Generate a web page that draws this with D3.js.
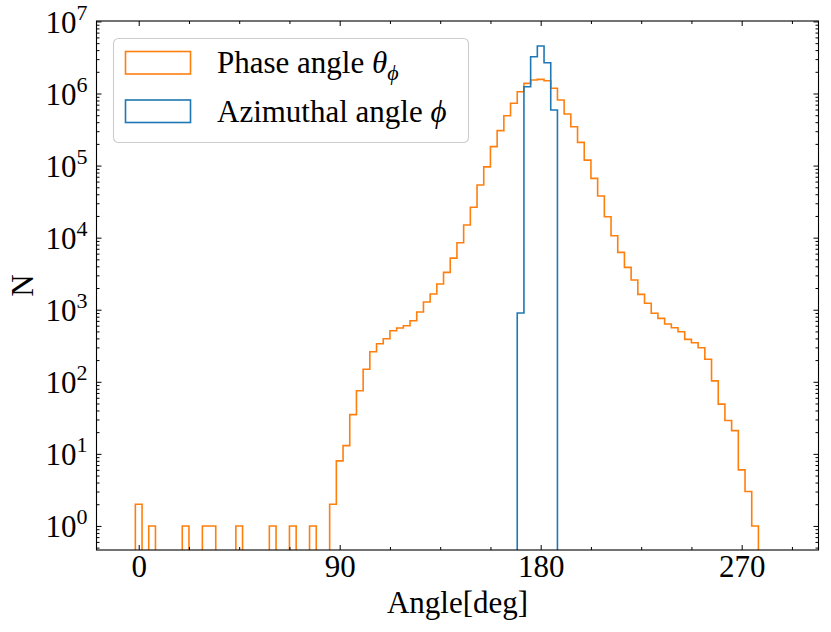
<!DOCTYPE html>
<html><head><meta charset="utf-8">
<script src="https://cdn.jsdelivr.net/npm/d3@7"></script>
<style>body{margin:0;background:#fff} text{font-family:"Liberation Serif","DejaVu Serif",serif;fill:#000}</style>
</head><body><svg id="c" width="831" height="632"></svg>
<script>
// ---- data (bin centres in degrees, 3-degree bins) ----
const binWidth = 3;
const phaseCenters = [0, 6, 21, 30, 33, 45, 60, 69, 78, 87, 90, 93, 96, 99, 102, 105, 108, 111, 114, 117, 120, 123, 126, 129, 132, 135, 138, 141, 144, 147, 150, 153, 156, 159, 162, 165, 168, 171, 174, 177, 180, 183, 186, 189, 192, 195, 198, 201, 204, 207, 210, 213, 216, 219, 222, 225, 228, 231, 234, 237, 240, 243, 246, 249, 252, 255, 258, 261, 264, 267, 270, 273, 276];
const phaseCounts = [2, 1, 1, 1, 1, 1, 1, 1, 1, 2, 8, 13, 35, 75, 149, 261, 337, 396, 511, 557, 600, 703, 929, 1280, 1652, 2271, 3300, 5200, 8500, 15000, 26400, 53700, 96000, 183000, 305000, 492000, 731000, 1060000, 1380000, 1540000, 1570000, 1500000, 1180000, 813000, 519000, 346000, 210000, 119000, 66500, 37800, 19500, 10600, 6250, 3870, 2580, 1634, 1228, 892, 759, 633, 562, 495, 388, 348, 297, 205, 103, 49, 29, 21, 6, 3, 1];
const azimCenters = [171, 174, 177, 180, 183, 186];
const azimCounts = [900, 1240000, 3240000, 4560000, 2670000, 590000];
const xTickValues = [0, 90, 180, 270];
const yTickExponents = [0, 1, 2, 3, 4, 5, 6, 7];
const legendLabels = ["Phase angle", "Azimuthal angle"];
const colors = ["#ff7f0e", "#1f77b4"];

// ---- layout ----
const svg = d3.select("#c");
const L = 96.5, R = 818.5, T = 21, B = 550;
const x = d3.scaleLinear().domain([-18.9, 304.4]).range([L, R]);
const y = d3.scaleLog().domain([Math.pow(10, -0.334), Math.pow(10, 7.006)]).range([B, T]);

svg.append("defs").append("clipPath").attr("id", "clip")
  .append("rect").attr("x", L).attr("y", T).attr("width", R - L).attr("height", B - T);

function stepPoints(centers, counts) {
  const map = new Map(centers.map((c, i) => [c, counts[i]]));
  const first = d3.min(centers), last = d3.max(centers);
  const floor = B + 20;
  const pts = [[x(first - binWidth / 2), floor]];
  for (let c = first; c <= last; c += binWidth) {
    const v = map.get(c) || 0;
    const py = v > 0 ? y(v) : floor;
    pts.push([x(c - binWidth / 2), py]);
    pts.push([x(c + binWidth / 2), py]);
  }
  pts.push([x(last + binWidth / 2), floor]);
  return pts;
}
const line = d3.line();
const g = svg.append("g").attr("clip-path", "url(#clip)");
g.append("path").attr("d", line(stepPoints(phaseCenters, phaseCounts)))
  .attr("fill", "none").attr("stroke", colors[0]).attr("stroke-width", 1.6).attr("stroke-linejoin", "miter");
g.append("path").attr("d", line(stepPoints(azimCenters, azimCounts)))
  .attr("fill", "none").attr("stroke", colors[1]).attr("stroke-width", 1.6).attr("stroke-linejoin", "miter");

// ---- ticks ----
const xMinor = d3.range(-22.5, 305, 22.5).filter(v => v >= -18.9 && v <= 304.4 && !xTickValues.includes(v));
const yMinor = [];
for (let e = -1; e <= 6; e++) for (let m = 2; m <= 9; m++) { const v = m * Math.pow(10, e); if (v >= y.domain()[0] && v <= y.domain()[1]) yMinor.push(v); }
const yMajor = yTickExponents.map(e => Math.pow(10, e)).filter(v => v <= y.domain()[1] * 1.0001);

function styleAxis(sel) { sel.select(".domain").remove(); sel.selectAll("line").attr("stroke", "#000").attr("stroke-width", 1); }

svg.append("g").attr("transform", `translate(0,${B})`).call(d3.axisBottom(x).tickValues(xMinor).tickSize(-3).tickFormat("")).call(styleAxis);
svg.append("g").attr("transform", `translate(0,${T})`).call(d3.axisTop(x).tickValues(xMinor).tickSize(-3).tickFormat("")).call(styleAxis);
svg.append("g").attr("transform", `translate(0,${T})`).call(d3.axisTop(x).tickValues(xTickValues).tickSize(-5).tickFormat("")).call(styleAxis);
const xb = svg.append("g").attr("transform", `translate(0,${B})`).call(d3.axisBottom(x).tickValues(xTickValues).tickSize(-5).tickFormat(d3.format("d"))).call(styleAxis);
xb.selectAll("text").attr("y", 27).attr("dy", null).attr("font-size", 31).attr("font-family", "Liberation Serif");

svg.append("g").attr("transform", `translate(${L},0)`).call(d3.axisLeft(y).tickValues(yMinor).tickSize(-3).tickFormat("")).call(styleAxis);
svg.append("g").attr("transform", `translate(${R},0)`).call(d3.axisRight(y).tickValues(yMinor).tickSize(-3).tickFormat("")).call(styleAxis);
svg.append("g").attr("transform", `translate(${R},0)`).call(d3.axisRight(y).tickValues(yMajor).tickSize(-5).tickFormat("")).call(styleAxis);
const yl = svg.append("g").attr("transform", `translate(${L},0)`).call(d3.axisLeft(y).tickValues(yMajor).tickSize(-5).tickFormat("")).call(styleAxis);
yl.selectAll(".tick").each(function (d) {
  const t = d3.select(this).append("text").attr("x", -9).attr("y", 11).attr("text-anchor", "end").attr("font-size", 31);
  t.append("tspan").text("10");
  t.append("tspan").attr("font-size", 22).attr("dy", -13).text(String(Math.round(Math.log10(d))));
});

// frame
svg.append("rect").attr("x", L).attr("y", T).attr("width", R - L).attr("height", B - T)
  .attr("fill", "none").attr("stroke", "#000").attr("stroke-width", 1.1);

// axis labels
svg.append("text").attr("x", (L + R) / 2).attr("y", 613).attr("text-anchor", "middle").attr("font-size", 31).text("Angle[deg]");
svg.append("text").attr("transform", `translate(33,${(T + B) / 2}) rotate(-90)`).attr("text-anchor", "middle").attr("font-size", 31).text("N");

// legend
const lg = svg.append("g");
lg.append("rect").attr("x", 113.5).attr("y", 38.5).attr("width", 355).attr("height", 104).attr("rx", 5)
  .attr("fill", "#fff").attr("fill-opacity", 0.8).attr("stroke", "#cccccc").attr("stroke-width", 1.1);
[0, 1].forEach(i => {
  const yy = 51.5 + i * 48.5;
  lg.append("rect").attr("x", 125.5).attr("y", yy).attr("width", 65).attr("height", 22.5)
    .attr("fill", "none").attr("stroke", colors[i]).attr("stroke-width", 1.6);
});
const t1 = lg.append("text").attr("x", 217).attr("y", 73).attr("font-size", 31);
t1.append("tspan").text(legendLabels[0] + " ");
t1.append("tspan").attr("font-style", "italic").text("θ");
t1.append("tspan").attr("font-style", "italic").attr("font-size", 22).attr("dy", 7).text("ϕ");
const t2 = lg.append("text").attr("x", 217).attr("y", 122).attr("font-size", 31);
t2.append("tspan").text(legendLabels[1] + " ");
t2.append("tspan").attr("font-style", "italic").text("ϕ");
</script></body></html>
